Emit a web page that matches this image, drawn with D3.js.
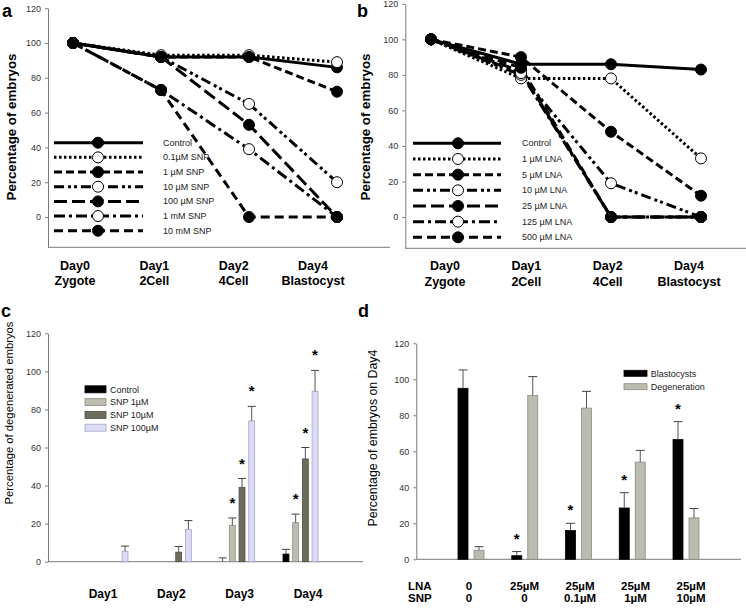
<!DOCTYPE html>
<html><head><meta charset="utf-8">
<script src="https://cdn.jsdelivr.net/npm/d3@7"></script>
<style>body{margin:0;background:#fff} svg{display:block} text{font-family:"Liberation Sans",Arial,sans-serif}</style>
</head><body><svg id="fig" width="746" height="613"></svg>
<script>
// ---------- DATA ----------
const stages = ["Day0","Day1","Day2","Day4"];
const stageNames = ["Zygote","2Cell","4Cell","Blastocyst"];
const yTicks = [0,20,40,60,80,100,120];

// Panel a (SNP)
const snpLabels = ["Control","0.1\u00B5M SNP","1 \u00B5M SNP","10 \u00B5M SNP","100 \u00B5M SNP","1 mM SNP","10 mM SNP"];
const snpControl = [100,92,92,86];
const snp01 = [100,93,93,89];
const snp1 = [100,92,92,72];
const snp10 = [100,92,65,20];
const snp100 = [100,92,53,0];
const snp1mM = [100,73,39,0];
const snp10mM = [100,73,0,0];

// Panel b (LNA)
const lnaLabels = ["Control","1 \u00B5M LNA","5 \u00B5M LNA","10 \u00B5M LNA","25 \u00B5M LNA","125 \u00B5M LNA","500 \u00B5M LNA"];
const lnaControl = [100,86,86,83];
const lna1 = [100,78,78,33];
const lna5 = [100,90,48,12];
const lna10 = [100,80,19,0];
const lna25 = [100,82,0,0];
const lna125 = [100,81,0,0];
const lna500 = [100,84,0,0];

// Panel c (degeneration)
const degDays = ["Day1","Day2","Day3","Day4"];
const degSeries = ["Control","SNP 1\u00B5M","SNP 10\u00B5M","SNP 100\u00B5M"];
const degControl = [0,0,0,4];
const degControlErr = [0,0,2,2.5];
const degSnp1 = [0,0,19,20.5];
const degSnp1Err = [0,0,4,4.5];
const degSnp10 = [0,5,39,54];
const degSnp10Err = [0,3,4.7,6];
const degSnp100 = [5.5,17,74,89.5];
const degSnp100Err = [2.7,4.6,7.6,11];
const degStar = [[false,false,false,false],[false,false,true,true],[false,false,true,true],[false,false,true,true]];

// Panel d (Day4)
const dGroups = ["g0","g1","g2","g3","g4"];
const dLNA = ["0","25\u00B5M","25\u00B5M","25\u00B5M","25\u00B5M"];
const dSNP = ["0","0","0.1\u00B5M","1\u00B5M","10\u00B5M"];
const dSeries = ["Blastocysts","Degeneration"];
const blasto = [95,2,16,28.5,66.5];
const blastoErr = [10.2,2.3,4,8.5,10];
const degen = [5,91,84,54,23];
const degenErr = [2,10.5,9.3,6.5,5.2];
const blastoStar = [false,true,true,true,true];

// ---------- STYLES ----------
const lineStyles = [
  {dash:null, open:false},
  {dash:"2.5,2.5", open:true},
  {dash:"8,4", open:false},
  {dash:"10,4,3,3,3,4", open:true},
  {dash:"13,5", open:false},
  {dash:"11,4,3,4", open:true},
  {dash:"9,5", open:false}
];
const barFill = ["#000000","#bdbdb1","#6d6d5b","#dcdcf8"];
const barStroke = ["#000000","#8d8d84","#4f4f42","#a4a4c4"];
const dFill = ["#000000","#bbbbaf"];
const dStroke = ["#000000","#8c8c84"];
const AX = "#7a7a7a";

const svg = d3.select("#fig");

function fitText(sel, target) {
  const n = sel.node();
  const fs = parseFloat(sel.style("font-size"));
  const len = n.getComputedTextLength();
  if (len > 0) sel.style("font-size", (fs*target/len).toFixed(2)+"px");
  return sel;
}

function yAxis(g, y, x) {
  const a = g.append("g").attr("transform",`translate(${x},0)`)
    .call(d3.axisLeft(y).tickValues(yTicks).tickSize(3).tickPadding(4).tickSizeOuter(0));
  a.select(".domain").attr("stroke",AX);
  a.selectAll(".tick line").attr("stroke",AX);
  a.selectAll(".tick text").attr("fill","#333").style("font-size","9px").style("font-family",'"Liberation Sans",Arial,sans-serif');
  return a;
}

function linePanel(cfg) {
  const g = svg.append("g");
  const y = d3.scaleLinear().domain([cfg.ymin,120]).range([cfg.ybot,cfg.ytop]);
  const x = d3.scalePoint().domain(stages).range(cfg.xr);
  const xl = d3.scalePoint().domain(stages).range(cfg.xlab);
  yAxis(g,y,cfg.ax);
  g.append("line").attr("x1",cfg.ax).attr("x2",cfg.axEnd).attr("y1",cfg.ybot).attr("y2",cfg.ybot).attr("stroke",AX);
  const line = d3.line().x((d,i)=>x(stages[i])).y(d=>y(d));
  cfg.series.forEach((s,k)=>{
    const st = lineStyles[k];
    g.append("path").attr("d",line(s)).attr("fill","none").attr("stroke","#000").attr("stroke-width",3)
      .attr("stroke-dasharray",st.dash);
  });
  cfg.series.forEach((s,k)=>{
    const st = lineStyles[k];
    g.selectAll(null).data(s).join("circle").attr("cx",(d,i)=>x(stages[i])).attr("cy",d=>y(d)).attr("r",5.5)
      .attr("fill",st.open?"#fff":"#000").attr("stroke","#000").attr("stroke-width",1);
  });
  cfg.labels.forEach((lab,k)=>{
    const st = lineStyles[k];
    const ly = cfg.ly0 + k*cfg.lstep;
    g.append("line").attr("x1",cfg.lx0).attr("x2",cfg.lx1).attr("y1",ly).attr("y2",ly).attr("stroke","#000").attr("stroke-width",3).attr("stroke-dasharray",st.dash);
    g.append("circle").attr("cx",cfg.lmx).attr("cy",ly).attr("r",5.5).attr("fill",st.open?"#fff":"#000").attr("stroke","#000");
    g.append("text").attr("x",cfg.ltx).attr("y",ly+3).text(lab).style("font-size","9px").attr("fill","#222");
  });
  stages.forEach((s,i)=>{
    g.append("text").attr("x",xl(s)).attr("y",cfg.lab1).attr("text-anchor","middle").style("font-size","12.5px").style("font-weight","bold").text(s);
    g.append("text").attr("x",xl(s)).attr("y",cfg.lab2).attr("text-anchor","middle").style("font-size","12.5px").style("font-weight","bold").text(stageNames[i]);
  });
  fitText(g.append("text").attr("transform",`translate(${cfg.ylx},${cfg.yly}) rotate(-90)`).attr("text-anchor","middle")
    .style("font-size","13px").style("font-weight","bold").text("Percentage of embryos"), 147);
  g.append("text").attr("x",cfg.px).attr("y",17).style("font-size","18px").style("font-weight","bold").text(cfg.letter);
}

linePanel({letter:"a",px:2,ax:48,axEnd:390,ymin:-17.4,ybot:247.3,ytop:8.2,xr:[73,337],xlab:[75,313],
  series:[snpControl,snp01,snp1,snp10,snp100,snp1mM,snp10mM],labels:snpLabels,
  lx0:54,lx1:143,lmx:98,ltx:163,ly0:142.7,lstep:14.67,lab1:270,lab2:284.5,ylx:16,yly:127});
linePanel({letter:"b",px:357,ax:405.3,axEnd:746,ymin:-17.6,ybot:248.3,ytop:3.8,xr:[431,701],xlab:[445,689],
  series:[lnaControl,lna1,lna5,lna10,lna25,lna125,lna500],labels:lnaLabels,
  lx0:413,lx1:501,lmx:458,ltx:522,ly0:143.3,lstep:15.67,lab1:270,lab2:286,ylx:370,yly:127});

// ---------- Panel c ----------
(function(){
  const g = svg.append("g");
  const y = d3.scaleLinear().domain([0,120]).range([561.7,333.3]);
  const xg = d3.scalePoint().domain(degDays).range([110.5,300.5]);
  const xi = d3.scaleBand().domain(degSeries).range([-17.5,17.5]).paddingInner(0.39);
  const xl = d3.scalePoint().domain(degDays).range([103,308]);
  yAxis(g,y,48);
  g.append("line").attr("x1",48).attr("x2",363).attr("y1",561.7).attr("y2",561.7).attr("stroke",AX);
  const vals = [degControl,degSnp1,degSnp10,degSnp100];
  const errs = [degControlErr,degSnp1Err,degSnp10Err,degSnp100Err];
  const bw = xi.bandwidth();
  degSeries.forEach((s,k)=>{
    degDays.forEach((d,i)=>{
      const v = vals[k][i], e = errs[k][i];
      const x0 = xg(d)+xi(s), cx = x0+bw/2;
      if (v>0) g.append("rect").attr("x",x0).attr("y",y(v)).attr("width",bw).attr("height",y(0)-y(v))
        .attr("fill",barFill[k]).attr("stroke",barStroke[k]).attr("stroke-width",0.8);
      if (e>0) {
        g.append("line").attr("x1",cx).attr("x2",cx).attr("y1",y(v)).attr("y2",y(v+e)).attr("stroke","#555");
        g.append("line").attr("x1",cx-4).attr("x2",cx+4).attr("y1",y(v+e)).attr("y2",y(v+e)).attr("stroke","#444");
      }
      if (degStar[k][i]) g.append("text").attr("x",cx).attr("y",y(v+e)-10).attr("text-anchor","middle")
        .style("font-size","15px").style("font-weight","bold").text("*");
    });
  });
  degSeries.forEach((s,k)=>{
    const ly = 389.3 + k*12.8;
    g.append("rect").attr("x",85).attr("y",ly-3.5).attr("width",21).attr("height",7).attr("fill",barFill[k]).attr("stroke",barStroke[k]).attr("stroke-width",0.8);
    g.append("text").attr("x",110).attr("y",ly+3.2).text(s).style("font-size","9px").attr("fill","#222");
  });
  degDays.forEach(d=>{
    g.append("text").attr("x",xl(d)).attr("y",597.5).attr("text-anchor","middle").style("font-size","12px").style("font-weight","bold").text(d);
  });
  fitText(g.append("text").attr("transform","translate(13,413) rotate(-90)").attr("text-anchor","middle")
    .style("font-size","11.5px").text("Percentage of degenerated embryos"), 183);
  g.append("text").attr("x",1).attr("y",317).style("font-size","18px").style("font-weight","bold").text("c");
})();

// ---------- Panel d ----------
(function(){
  const g = svg.append("g");
  const y = d3.scaleLinear().domain([0,120]).range([559.3,343.3]);
  const xg = d3.scalePoint().domain(dGroups).range([471,686]);
  const xi = d3.scaleBand().domain(dSeries).range([-13,13]).paddingInner(0.375);
  const xl = d3.scalePoint().domain(dGroups).range([469,691]);
  yAxis(g,y,416.3);
  g.append("line").attr("x1",416.3).attr("x2",741).attr("y1",559.3).attr("y2",559.3).attr("stroke",AX);
  const vals = [blasto,degen], errs = [blastoErr,degenErr];
  const bw = xi.bandwidth();
  dSeries.forEach((s,k)=>{
    dGroups.forEach((gr,i)=>{
      const v = vals[k][i], e = errs[k][i];
      const x0 = xg(gr)+xi(s), cx = x0+bw/2;
      g.append("rect").attr("x",x0).attr("y",y(v)).attr("width",bw).attr("height",y(0)-y(v))
        .attr("fill",dFill[k]).attr("stroke",dStroke[k]).attr("stroke-width",0.8);
      g.append("line").attr("x1",cx).attr("x2",cx).attr("y1",y(v)).attr("y2",y(v+e)).attr("stroke","#555");
      g.append("line").attr("x1",cx-4.5).attr("x2",cx+4.5).attr("y1",y(v+e)).attr("y2",y(v+e)).attr("stroke","#444");
      if (k===0 && blastoStar[i]) g.append("text").attr("x",cx).attr("y",y(v+e)-8).attr("text-anchor","middle")
        .style("font-size","15px").style("font-weight","bold").text("*");
    });
  });
  dSeries.forEach((s,k)=>{
    const ly = 373.3 + k*13.4;
    g.append("rect").attr("x",624).attr("y",ly-3).attr("width",23).attr("height",6).attr("fill",dFill[k]).attr("stroke",dStroke[k]).attr("stroke-width",0.8);
    g.append("text").attr("x",650.7).attr("y",ly+3.2).text(s).style("font-size","9px").attr("fill","#222");
  });
  g.append("text").attr("x",408).attr("y",590).style("font-size","11.5px").style("font-weight","bold").text("LNA");
  g.append("text").attr("x",408).attr("y",601.7).style("font-size","11.5px").style("font-weight","bold").text("SNP");
  dGroups.forEach((gr,i)=>{
    g.append("text").attr("x",xl(gr)).attr("y",590).attr("text-anchor","middle").style("font-size","11.5px").style("font-weight","bold").text(dLNA[i]);
    g.append("text").attr("x",xl(gr)).attr("y",601.7).attr("text-anchor","middle").style("font-size","11.5px").style("font-weight","bold").text(dSNP[i]);
  });
  fitText(g.append("text").attr("transform","translate(377,438) rotate(-90)").attr("text-anchor","middle")
    .style("font-size","12px").text("Percentage of embryos on Day4"), 177);
  g.append("text").attr("x",358).attr("y",317).style("font-size","18px").style("font-weight","bold").text("d");
})();
</script></body></html>
